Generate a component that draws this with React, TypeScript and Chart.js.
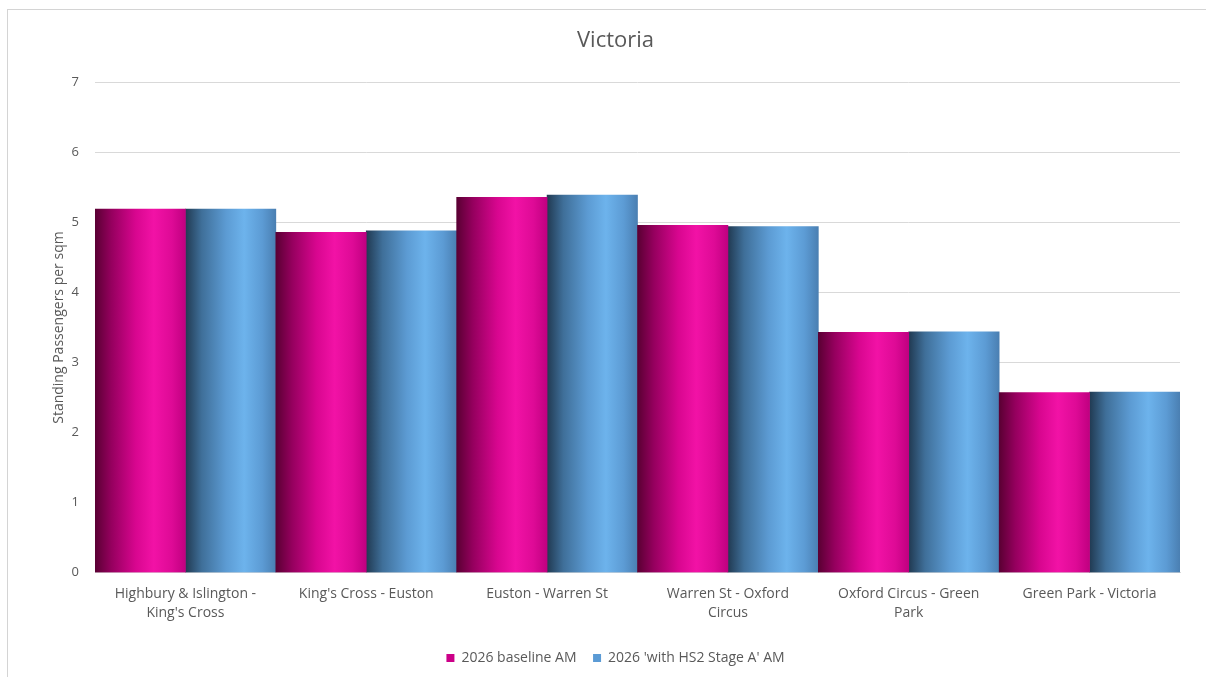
import React, { useEffect, useRef } from "react";
import { Chart, registerables } from "chart.js";

Chart.register(...registerables);

// Line sections (wrapped onto two lines where the label is long)
const sections: string[][] = [
  ["Highbury & Islington -", "King's Cross"],
  ["King's Cross - Euston"],
  ["Euston - Warren St"],
  ["Warren St - Oxford", "Circus"],
  ["Oxford Circus - Green", "Park"],
  ["Green Park - Victoria"],
];

const baselineAM = [5.19, 4.86, 5.36, 4.96, 3.43, 2.57];
const withHS2AM = [5.19, 4.88, 5.39, 4.94, 3.44, 2.58];

const yTicks = [0, 1, 2, 3, 4, 5, 6, 7];

const TEXT = "#595959";
const GRID = "#d9d9d9";
const FONT = "'Open Sans', 'Noto Sans', sans-serif";

// Horizontal "cylinder" shading for each bar
const shades: Record<number, [number, string][]> = {
  0: [
    [0, "#5a0033"],
    [0.18, "#95005e"],
    [0.45, "#d8068f"],
    [0.65, "#f212a6"],
    [0.85, "#de0a96"],
    [1, "#c00080"],
  ],
  1: [
    [0, "#213a52"],
    [0.18, "#3f6f99"],
    [0.45, "#5c9bd3"],
    [0.65, "#6db3ec"],
    [0.85, "#5c9bd4"],
    [1, "#4a7fb2"],
  ],
};

const cylinderShading = {
  id: "cylinderShading",
  beforeDatasetsDraw(chart: any) {
    const ctx = chart.ctx;
    chart.data.datasets.forEach((_: any, di: number) => {
      const meta = chart.getDatasetMeta(di);
      meta.data.forEach((el: any) => {
        const half = el.width / 2;
        const g = ctx.createLinearGradient(el.x - half, 0, el.x + half, 0);
        shades[di].forEach(([o, c]) => g.addColorStop(o, c));
        el.options = Object.assign({}, el.options, { backgroundColor: g });
      });
    });
  },
};

export default function App() {
  const ref = useRef<HTMLCanvasElement | null>(null);

  useEffect(() => {
    if (!ref.current) return;
    const chart = new Chart(ref.current, {
      type: "bar",
      data: {
        labels: sections,
        datasets: [
          {
            label: "2026 baseline AM",
            data: baselineAM,
            backgroundColor: "#cc0088",
            borderWidth: 0,
            categoryPercentage: 1,
            barPercentage: 1,
          },
          {
            label: "2026 'with HS2 Stage A' AM",
            data: withHS2AM,
            backgroundColor: "#5b9bd5",
            borderWidth: 0,
            categoryPercentage: 1,
            barPercentage: 1,
          },
        ],
      },
      plugins: [cylinderShading],
      options: {
        animation: false,
        responsive: false,
        maintainAspectRatio: false,
        layout: { padding: { left: 51, right: 26, top: 10, bottom: 2 } },
        plugins: {
          title: {
            display: true,
            text: "Victoria",
            color: TEXT,
            font: { family: FONT, size: 22, weight: "normal" },
            padding: { top: 18, bottom: 28 },
          },
          legend: {
            position: "bottom",
            labels: {
              color: TEXT,
              font: { family: FONT, size: 14 },
              boxWidth: 8,
              boxHeight: 8,
              padding: 16.5,
            },
          },
          tooltip: { enabled: false },
        },
        scales: {
          x: {
            grid: { display: false, drawTicks: false },
            border: { display: true, color: GRID },
            ticks: {
              color: TEXT,
              font: { family: FONT, size: 14, lineHeight: 1.35 },
              padding: 12,
              maxRotation: 0,
              autoSkip: false,
            },
          },
          y: {
            min: 0,
            max: 7,
            afterBuildTicks: (s: any) => {
              s.ticks = yTicks.map((v) => ({ value: v }));
            },
            afterFit: (s: any) => {
              s.width = 44;
            },
            grid: { color: GRID, drawTicks: false },
            border: { display: false },
            ticks: {
              color: TEXT,
              font: { family: FONT, size: 13 },
              padding: 16,
            },
            title: {
              display: true,
              text: "Standing Passengers per sqm",
              color: TEXT,
              font: { family: FONT, size: 14 },
              padding: { top: 0, bottom: 0 },
            },
          },
        },
      },
    });
    return () => chart.destroy();
  }, []);

  return (
    <div style={{ position: "fixed", left: 0, top: 0, width: 1206, height: 677, background: "#fff" }}>
      <canvas ref={ref} width={1206} height={677} style={{ position: "absolute", left: 0, top: 0 }} />
      <div
        style={{
          position: "absolute",
          left: 7,
          top: 9,
          width: 1210,
          height: 680,
          borderTop: "1px solid #d4d4d4",
          borderLeft: "1px solid #d4d4d4",
          pointerEvents: "none",
        }}
      />
    </div>
  );
}
